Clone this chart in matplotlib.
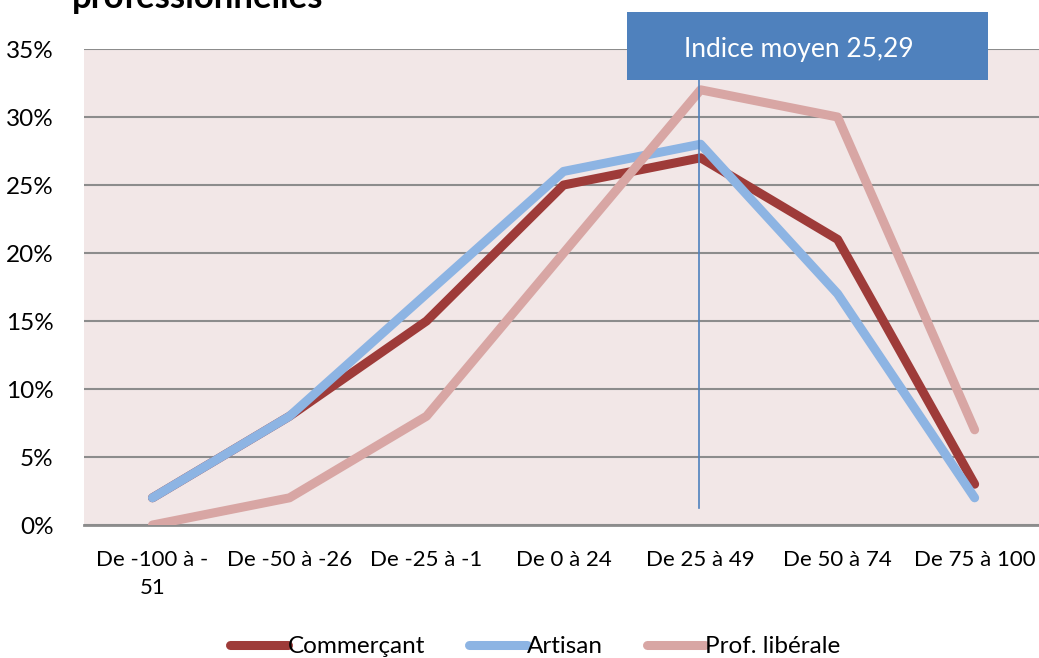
import matplotlib.pyplot as plt
from matplotlib.patches import Rectangle
from matplotlib.ticker import FuncFormatter

plt.rcParams['font.family'] = ['Lato', 'DejaVu Sans']

categories = ["De -100 à -\n51", "De -50 à -26", "De -25 à -1", "De 0 à 24",
              "De 25 à 49", "De 50 à 74", "De 75 à 100"]
commercant = [2, 8, 15, 25, 27, 21, 3]
artisan = [2, 8, 17, 26, 28, 17, 2]
prof_liberale = [0, 2, 8, 20, 32, 30, 7]
indice_label = "Indice moyen 25,29"

x = range(len(categories))

fig = plt.figure(figsize=(10.39, 6.58), dpi=100)
ax = fig.add_axes([0.0808, 0.2021, 0.9232, 0.7234])
ax.set_facecolor("#f2e7e7")

lw = 6.5
ax.plot(x, commercant, color="#9e3b39", lw=lw, solid_capstyle="round",
        solid_joinstyle="round", label="Commerçant", zorder=3)
ax.plot(x, artisan, color="#8db4e3", lw=lw, solid_capstyle="round",
        solid_joinstyle="round", label="Artisan", zorder=3)
ax.plot(x, prof_liberale, color="#d8a6a4", lw=lw, solid_capstyle="round",
        solid_joinstyle="round", label="Prof. libérale", zorder=3)

ax.set_xlim(-0.5, 6.5)
ax.set_ylim(0, 35)
ax.set_yticks(range(0, 36, 5))
ax.yaxis.set_major_formatter(FuncFormatter(lambda v, p: f"{v:.0f}%"))
ax.set_xticks(list(x))
ax.set_xticklabels(categories, linespacing=1.5)
ax.grid(axis="y", color="#8c8c8c", lw=1.5, zorder=1)
ax.tick_params(length=0, colors="black")
ax.tick_params(axis="x", pad=18, labelsize=16)
ax.tick_params(axis="y", pad=22, labelsize=17.5)
for s in ["top", "right", "left"]:
    ax.spines[s].set_visible(False)
ax.spines["bottom"].set_color("#8c8c8c")
ax.spines["bottom"].set_linewidth(2)

# average index marker
ax.plot([3.99, 3.99], [1.25, 32.7], color="#4f81bd", lw=1.2, zorder=4, clip_on=False)
ax.add_patch(Rectangle((3.46, 32.7), 2.64, 5.0, facecolor="#4f81bd",
                       edgecolor="none", zorder=5, clip_on=False))
ax.text(4.72, 35.0, indice_label, color="white", fontsize=19,
        ha="center", va="center", zorder=6, clip_on=False)

leg = fig.legend(loc="center", bbox_to_anchor=(0.515, 0.017), ncol=3,
                 frameon=False, fontsize=17.5, handlelength=2.4,
                 handletextpad=0.0, columnspacing=1.8)

fig.text(0.069, 1 - 8 / 658, "professionnelles", fontsize=25,
         fontweight="bold", ha="left", va="baseline")

fig.savefig("out.png", dpi=100)
